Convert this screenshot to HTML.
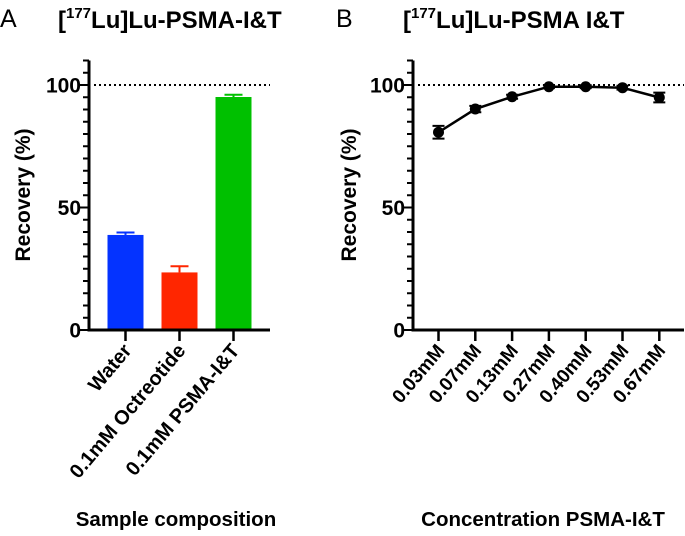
<!DOCTYPE html>
<html><head><meta charset="utf-8"><style>
body{margin:0;background:#fff;}
svg{font-family:"Liberation Sans",Arial,sans-serif;}
</style></head><body>
<svg id="c" width="685" height="531" viewBox="0 0 685 531" xmlns="http://www.w3.org/2000/svg">
<text x="0" y="27" font-size="25">A</text>
<text x="58" y="28" font-size="24" font-weight="bold">[<tspan font-size="15" dy="-10">177</tspan><tspan dy="10">Lu]Lu-PSMA-I&amp;T</tspan></text>
<text x="336" y="27" font-size="25">B</text>
<text x="403" y="28" font-size="24" font-weight="bold">[<tspan font-size="15" dy="-10">177</tspan><tspan dy="10">Lu]Lu-PSMA I&amp;T</tspan></text>
<text transform="translate(30,195) rotate(-90)" text-anchor="middle" font-size="21" font-weight="bold">Recovery (%)</text>
<text transform="translate(356,195) rotate(-90)" text-anchor="middle" font-size="21" font-weight="bold">Recovery (%)</text>
<text x="176" y="526" text-anchor="middle" font-size="20.5" font-weight="bold">Sample composition</text>
<text x="543" y="526" text-anchor="middle" font-size="20.5" font-weight="bold">Concentration PSMA-I&amp;T</text>
<g id="ga"></g><g id="gb"></g>
</svg>
<script>
const barCategories=["Water","0.1mM Octreotide","0.1mM PSMA-I&T"];
const barValues=[38.8,23.5,95.1];
const barErrors=[1.0,2.5,0.9];
const barColors=["#0433ff","#ff2600","#00c000"];
const lineCategories=["0.03mM","0.07mM","0.13mM","0.27mM","0.40mM","0.53mM","0.67mM"];
const lineValues=[80.7,90.2,95.2,99.3,99.3,98.9,94.9];
const lineErrors=[2.6,1.3,0.8,0.6,0.6,0.8,2.0];
const yTicks=[0,50,100];
const NS="http://www.w3.org/2000/svg";
const Y0=330,YS=2.45,YMAX=110;
function yScale(v){return Y0-v*YS;}
function mk(p,t,a){const e=document.createElementNS(NS,t);for(const k in a)e.setAttribute(k,a[k]);p.appendChild(e);return e;}
function axes(g,x0,x1,pref,cats,xf,fs){
  const ya=mk(g,'line',{x1:x0,y1:yScale(YMAX),x2:x0,y2:Y0+1.5,stroke:'#000','stroke-width':3});
  
  
  const xa=mk(g,'line',{x1:x0-1.5,y1:Y0,x2:x1,y2:Y0,stroke:'#000','stroke-width':3});
  
  
  for(let v=0;v<=YMAX;v+=5){
    const major=v%50===0;
    const t=mk(g,'line',{x1:x0-(major?9:6),y1:yScale(v),x2:x0,y2:yScale(v),stroke:'#000','stroke-width':2});
    
    
  }
  yTicks.forEach(v=>{
    const t=mk(g,'text',{x:x0-8,y:yScale(v)+7.5,'text-anchor':'end','font-size':21,'font-weight':'bold'});
    t.textContent=v;
    
    
  });
  const ref=mk(g,'line',{x1:x0+5,y1:yScale(100),x2:x1,y2:yScale(100),stroke:'#000','stroke-width':2,'stroke-dasharray':'2,3'});
  
  
  cats.forEach((c,i)=>{
    const x=xf(i);
    const t=mk(g,'line',{x1:x,y1:Y0,x2:x,y2:Y0+11,stroke:'#000','stroke-width':2.5});
    
    
    const l=mk(g,'text',{transform:`translate(${x+7},${Y0+21}) rotate(-50)`,'text-anchor':'end','font-size':fs,'font-weight':'bold'});
    l.textContent=c;
    
    
  });
}
const ga=document.getElementById('ga');
const bx=i=>125.5+i*54;
axes(ga,89,270,'panel-a',barCategories,bx,20);
barValues.forEach((v,i)=>{
  const x=bx(i),top=yScale(v+barErrors[i]);
  const e1=mk(ga,'line',{x1:x,y1:top,x2:x,y2:yScale(v),stroke:barColors[i],'stroke-width':2});
  
  
  const e2=mk(ga,'line',{x1:x-9,y1:top,x2:x+9,y2:top,stroke:barColors[i],'stroke-width':2});
  
  
  const r=mk(ga,'rect',{x:x-18,y:yScale(v),width:36,height:Y0-yScale(v)-1.5,fill:barColors[i]});
  
  
});
const gb=document.getElementById('gb');
const lx=i=>438.5+i*36.8;
axes(gb,413,684,'panel-b',lineCategories,lx,19);
const pts=lineValues.map((v,i)=>lx(i)+','+yScale(v)).join(' ');
const pl=mk(gb,'polyline',{points:pts,fill:'none',stroke:'#000','stroke-width':2.5});


lineValues.forEach((v,i)=>{
  const x=lx(i),a=yScale(v+lineErrors[i]),b=yScale(v-lineErrors[i]);
  const e=mk(gb,'path',{d:`M${x},${a}V${b}M${x-6},${a}H${x+6}M${x-6},${b}H${x+6}`,stroke:'#000','stroke-width':2,fill:'none'});
  
  
  const c=mk(gb,'circle',{cx:x,cy:yScale(v),r:5.5,fill:'#000'});
  
  
});
</script>
</body></html>
